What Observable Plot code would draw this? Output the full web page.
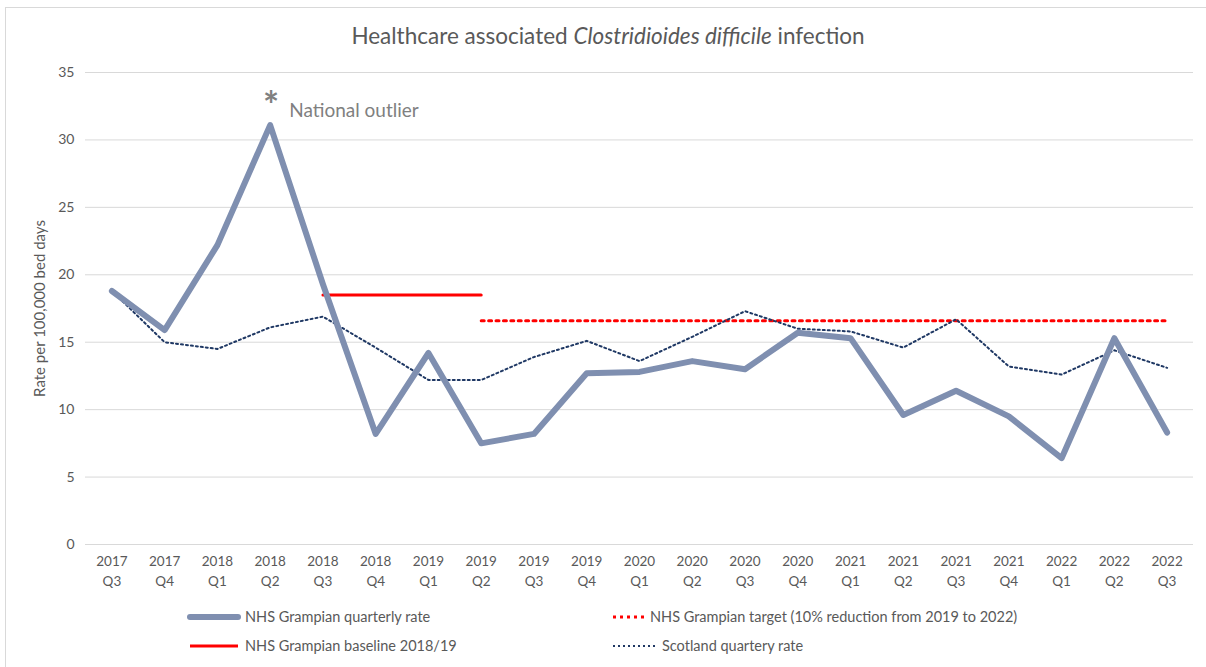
<!DOCTYPE html>
<html>
<head>
<meta charset="utf-8">
<script src="https://cdn.jsdelivr.net/npm/d3@7"></script>
<script src="https://cdn.jsdelivr.net/npm/@observablehq/plot@0.6"></script>
<style>
  html, body { margin: 0; padding: 0; background: #fff; }
  body { width: 1206px; height: 667px; position: relative; overflow: hidden; font-family: "Lato", "Open Sans", sans-serif; color: #595959; }
  #frame { position: absolute; left: 5px; top: 7px; width: 1220px; height: 700px; border: 1px solid #d9d9d9; box-sizing: border-box; }
  #title { position: absolute; left: 0; top: 22px; width: 1216px; text-align: center; font-size: 22.5px; color: #595959; }
  #chart { position: absolute; left: 0; top: 60px; }
  .leg { position: absolute; font-size: 14.5px; color: #595959; display: flex; align-items: center; white-space: nowrap; }
  .leg svg { margin-right: 3px; }
</style>
</head>
<body>
<div id="frame"></div>
<div id="title">Healthcare associated <i>Clostridioides difficile</i> infection</div>
<div id="chart"></div>
<div class="leg" style="left:186px; top:608px;"><svg width="56" height="10"><line x1="4" y1="5" x2="52" y2="5" stroke="#7f8fb0" stroke-width="6" stroke-linecap="round"/></svg><span>NHS Grampian quarterly rate</span></div>
<div class="leg" style="left:186px; top:637px;"><svg width="56" height="10"><line x1="4" y1="5" x2="52" y2="5" stroke="#ff0000" stroke-width="3"/></svg><span>NHS Grampian baseline 2018/19</span></div>
<div class="leg" style="left:611px; top:608px;"><svg width="36" height="10"><line x1="2" y1="5" x2="34" y2="5" stroke="#ff0000" stroke-width="3" stroke-dasharray="3 4"/></svg><span>NHS Grampian target (10% reduction from 2019 to 2022)</span></div>
<div class="leg" style="left:611px; top:637px;"><svg width="48" height="10"><line x1="2" y1="5" x2="46" y2="5" stroke="#1f3864" stroke-width="2" stroke-dasharray="2 3"/></svg><span>Scotland quartery rate</span></div>
<script>
const quarters = ["2017 Q3","2017 Q4","2018 Q1","2018 Q2","2018 Q3","2018 Q4","2019 Q1","2019 Q2","2019 Q3","2019 Q4","2020 Q1","2020 Q2","2020 Q3","2020 Q4","2021 Q1","2021 Q2","2021 Q3","2021 Q4","2022 Q1","2022 Q2","2022 Q3"];
const grampian = [18.8, 15.9, 22.2, 31.1, 19.3, 8.2, 14.2, 7.5, 8.2, 12.7, 12.8, 13.6, 13.0, 15.7, 15.3, 9.6, 11.4, 9.5, 6.4, 15.3, 8.3];
const scotland = [18.8, 15.0, 14.5, 16.1, 16.9, 14.6, 12.2, 12.2, 13.9, 15.1, 13.6, 15.4, 17.3, 16.0, 15.8, 14.6, 16.7, 13.2, 12.6, 14.4, 13.1];
const baselineQuarters = ["2018 Q3", "2019 Q2"];
const baselineValue = 18.5;
const targetQuarters = ["2019 Q2", "2022 Q3"];
const targetValue = 16.6;
const yTicks = [0, 5, 10, 15, 20, 25, 30, 35];
const yLabel = "Rate per 100,000 bed days";
const outlierQuarter = "2018 Q2";
const outlierLabel = "National outlier";

const rows = quarters.map((q, i) => ({q, g: grampian[i], s: scotland[i]}));
const baseline = baselineQuarters.map(q => ({q, v: baselineValue}));
const target = targetQuarters.map(q => ({q, v: targetValue}));
const outlier = rows.filter(d => d.q === outlierQuarter);

const chart = Plot.plot({
  width: 1206,
  height: 535,
  marginLeft: 85,
  marginRight: 13,
  marginTop: 12,
  marginBottom: 51,
  x: {type: "point", domain: quarters, padding: 0.5, round: false},
  y: {domain: [0, 35]},
  style: {fontFamily: "Lato, 'Open Sans', sans-serif", fontSize: "13.5px", color: "#595959", background: "transparent"},
  marks: [
    Plot.gridY(yTicks, {stroke: "#d9d9d9", strokeOpacity: 1}),
    Plot.axisY(yTicks, {tickSize: 0, tickPadding: 11, label: null, fontSize: 14}),
    Plot.text([yLabel], {frameAnchor: "left", textAnchor: "middle", rotate: -90, dx: -45, fontSize: 15, fill: "#595959"}),
    Plot.axisX({tickSize: 0, tickPadding: 7, label: null, tickFormat: d => d.replace(" ", "\n"), lineHeight: 1.5, fontSize: 13.5}),
    Plot.line(baseline, {x: "q", y: "v", stroke: "#ff0000", strokeWidth: 3}),
    Plot.line(target, {x: "q", y: "v", stroke: "#ff0000", strokeWidth: 3, strokeDasharray: "3 4.4"}),
    Plot.line(rows, {x: "q", y: "s", stroke: "#1f3864", strokeWidth: 2, strokeDasharray: "2 3"}),
    Plot.line(rows, {x: "q", y: "g", stroke: "#7f8fb0", strokeWidth: 6, strokeLinejoin: "round", strokeLinecap: "round"}),
    Plot.text(outlier, {x: "q", y: "g", text: () => "*", dx: 1, dy: -18, fontSize: 38, fontWeight: "bold", fill: "#808080"}),
    Plot.text(outlier, {x: "q", y: "g", text: () => outlierLabel, textAnchor: "start", dx: 19, dy: -14, fontSize: 19, fill: "#808080"})
  ]
});
document.getElementById("chart").appendChild(chart);
</script>
</body>
</html>
